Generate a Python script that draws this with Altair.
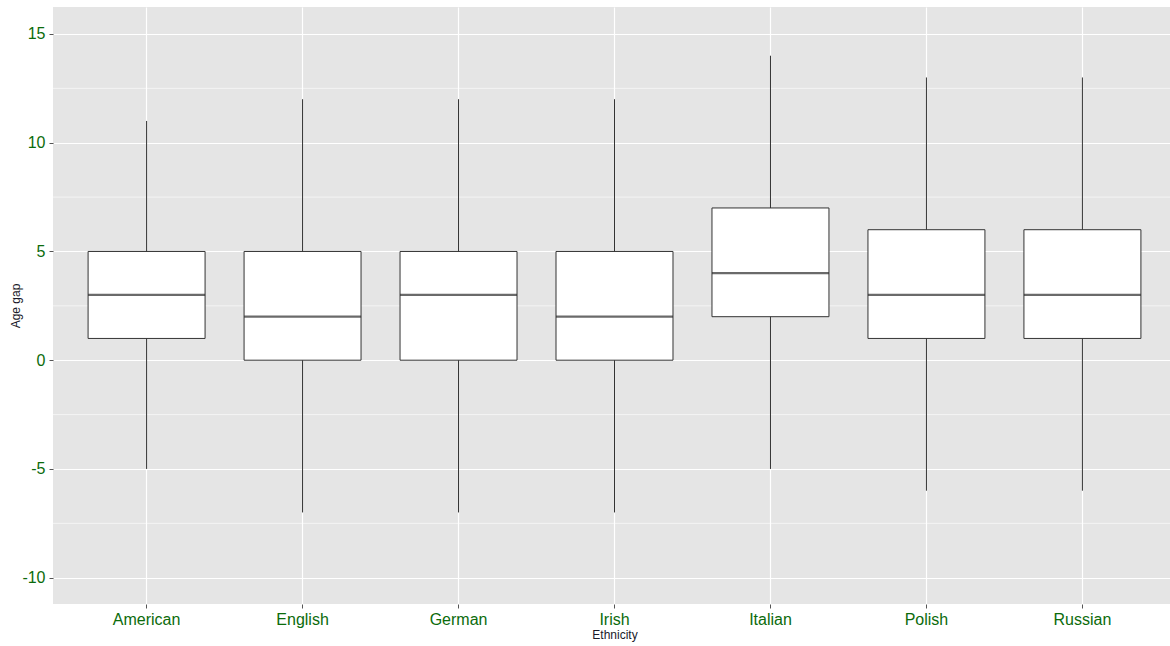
import altair as alt
import pandas as pd

# Five-number summaries of the age gap per ethnicity
ethnicity = ["American", "English", "German", "Irish", "Italian", "Polish", "Russian"]
whisker_low = [-5, -7, -7, -7, -5, -6, -6]
q1 = [1, 0, 0, 0, 2, 1, 1]
median = [3, 2, 3, 2, 4, 3, 3]
q3 = [5, 5, 5, 5, 7, 6, 6]
whisker_high = [11, 12, 12, 12, 14, 13, 13]

# Minor grid breaks between the labelled ticks
minor_breaks = [-7.5, -2.5, 2.5, 7.5, 12.5]
major_breaks = [-10, -5, 0, 5, 10, 15]

df = pd.DataFrame({
    "Ethnicity": ethnicity,
    "lo": whisker_low,
    "q1": q1,
    "med": median,
    "q3": q3,
    "hi": whisker_high,
})
minor_df = pd.DataFrame({"v": minor_breaks})

W, H = 1117, 597
# the discrete range runs a little past the right edge of the panel
X_RANGE = 1123
STEP = X_RANGE / 7.2
BOX_W = STEP * 0.75

y_scale = alt.Scale(domain=[-11.21, 16.24], nice=False, zero=False)
y_axis = alt.Axis(
    title="Age gap",
    values=major_breaks,
    labelExpr="datum.value + ''",
    titleX=-37.5,
    titleY=H / 2,
    titleBaseline="middle",
    titleAlign="center",
)
x_enc = alt.X(
    "Ethnicity:N",
    sort=ethnicity,
    scale=alt.Scale(paddingInner=0, paddingOuter=0.1, range=[0, X_RANGE]),
    axis=alt.Axis(title="Ethnicity", labelAngle=0, bandPosition=0.5),
)

minor = alt.Chart(minor_df).mark_rule(color="white", strokeWidth=0.6).encode(
    y=alt.Y("v:Q", scale=y_scale, axis=y_axis)
)

whiskers = alt.Chart(df).mark_rule(color="#333333", strokeWidth=1).encode(
    x=x_enc,
    y=alt.Y("lo:Q", scale=y_scale, axis=y_axis),
    y2="hi:Q",
)

boxes = alt.Chart(df).mark_bar(
    size=BOX_W, fill="white", stroke="#333333", strokeWidth=1
).encode(
    x=x_enc,
    y=alt.Y("q1:Q", scale=y_scale, axis=y_axis),
    y2="q3:Q",
)

medians = alt.Chart(df).mark_tick(
    size=BOX_W, thickness=2.2, color="#2b2b2b", orient="horizontal"
).encode(
    x=x_enc,
    y=alt.Y("med:Q", scale=y_scale, axis=y_axis),
)

chart = alt.layer(minor, whiskers, boxes, medians).properties(
    width=W,
    height=H,
    autosize=alt.AutoSizeParams(type="none"),
    padding={"left": 53, "top": 7, "right": 0, "bottom": 42},
    background="white",
).configure_view(
    fill="#E5E5E5", stroke=None
).configure_axis(
    domain=False,
    grid=True,
    gridColor="white",
    gridWidth=1.2,
    tickColor="#555555",
    tickSize=4,
    labelColor="#0B6B0B",
    labelFont="Liberation Sans",
    labelFontSize=16,
    titleFont="Liberation Sans",
    titleFontSize=12,
    titleFontWeight="normal",
    titleColor="#1a1a2a",
).configure_axisX(
    labelPadding=3,
    titlePadding=2,
).configure_axisY(
    labelPadding=4,
)

chart.save("out.html", embed_options={"renderer": "svg", "actions": False})
